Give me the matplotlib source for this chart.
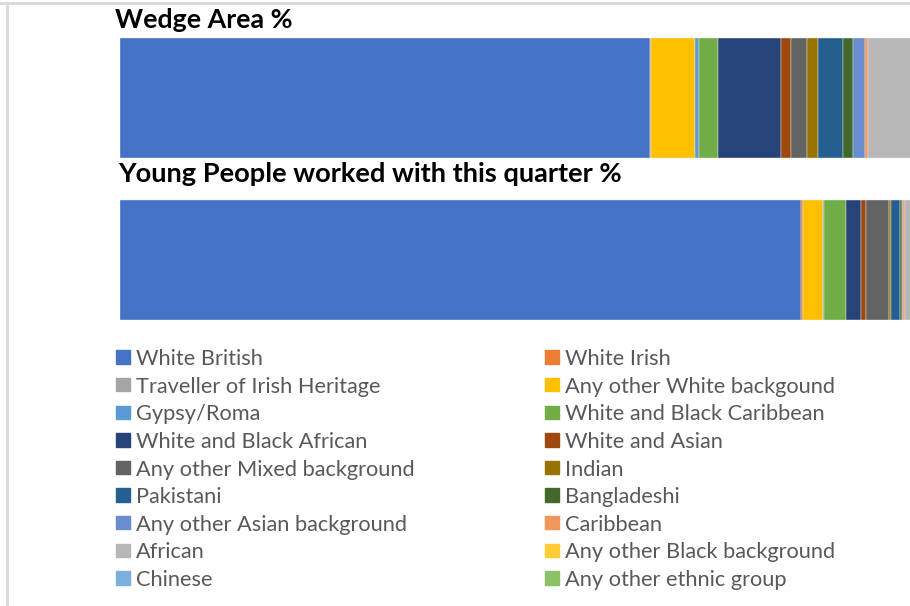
import matplotlib
matplotlib.use("Agg")
import matplotlib.pyplot as plt
from matplotlib.patches import Rectangle
from matplotlib.lines import Line2D

plt.rcParams['font.family'] = ['Lato', 'DejaVu Sans']

groups = ["Wedge Area %", "Young People worked with this quarter %"]

ethnicities = [
    "White British", "White Irish",
    "Traveller of Irish Heritage", "Any other White backgound",
    "Gypsy/Roma", "White and Black Caribbean",
    "White and Black African", "White and Asian",
    "Any other Mixed background", "Indian",
    "Pakistani", "Bangladeshi",
    "Any other Asian background", "Caribbean",
    "African", "Any other Black background",
    "Chinese", "Any other ethnic group",
]

# percentages (right end of the chart is cropped)
wedge_pct = [62.4, 0.1, 0.0, 5.1, 0.5, 2.3, 7.4, 1.1, 1.9, 1.3,
             3.0, 1.1, 1.4, 0.35, 7.5, 1.5, 0.8, 2.2]
young_pct = [80.1, 0.25, 0.0, 2.3, 0.2, 2.6, 1.7, 0.6, 2.7, 0.3,
             1.05, 0.2, 0.15, 0.25, 3.5, 1.0, 0.3, 2.8]

colors = ["#4472C4", "#ED7D31", "#A5A5A5", "#FFC000", "#5B9BD5", "#70AD47",
          "#264478", "#9E480E", "#636363", "#997300", "#255E91", "#43682B",
          "#698ED0", "#F1975A", "#B7B7B7", "#FFCD33", "#7CAFDD", "#8CC168"]

W, H = 910, 606
fig = plt.figure(figsize=(W / 100, H / 100), dpi=100)

def fx(px):
    return px / W

def fy(py):
    return 1 - py / H

ax = fig.add_axes([fx(120), fy(320), fx(790), (320 - 38) / H])

left = [0.0, 0.0]
for i, name in enumerate(ethnicities):
    vals = [wedge_pct[i], young_pct[i]]
    ax.barh([0, 1], vals, left=left, height=0.74, color=colors[i],
            edgecolor="#E8E8E8", linewidth=0.3, label=name)
    left = [left[0] + vals[0], left[1] + vals[1]]

ax.set_xlim(0, 790 / 8.5)
ax.set_ylim(1.37, -0.37)
ax.axis("off")

# group titles above each bar
fig.text(fx(115), fy(28), groups[0], fontsize=19.3, fontweight="bold",
         color="black", va="baseline")
fig.text(fx(118), fy(182), groups[1], fontsize=19.6, fontweight="bold",
         color="black", va="baseline")

# legend, two columns, row-major order
for i, name in enumerate(ethnicities):
    row, col = i // 2, i % 2
    yc = 357.3 + row * 27.6
    x0 = 116 if col == 0 else 545
    fig.patches.append(Rectangle((fx(x0), fy(yc + 6.5)), fx(13.5), 13.5 / H,
                                 transform=fig.transFigure, color=colors[i]))
    fig.text(fx(x0 + 20), fy(yc), name, fontsize=15.7, color="#595959",
             va="center_baseline")

# frame of the screenshot
fig.add_artist(Line2D([fx(7), fx(7)], [fy(3), 0], color="#D9D9D9", lw=2,
                      transform=fig.transFigure))
fig.add_artist(Line2D([0, 1], [fy(3), fy(3)], color="#D9D9D9", lw=2,
                      transform=fig.transFigure))

fig.savefig("out.png", dpi=100)
